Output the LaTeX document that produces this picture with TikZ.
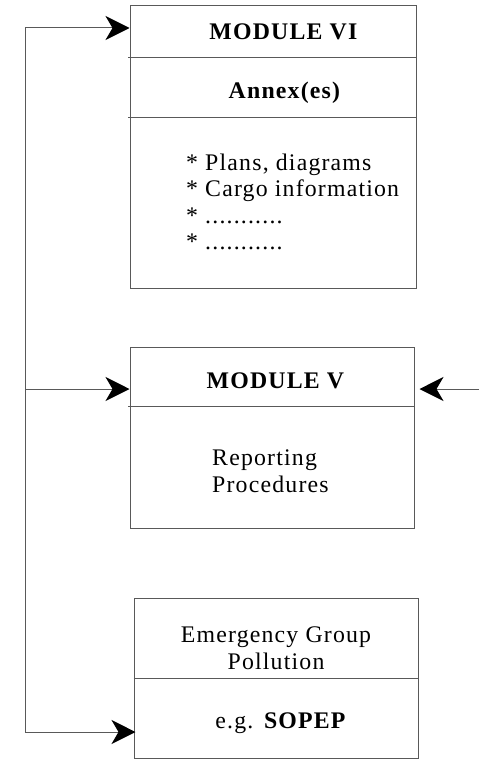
\documentclass[tikz,border=0pt]{standalone}
\usepackage{fontspec}
\setmainfont[LetterSpace=5]{Liberation Serif}
\usetikzlibrary{arrows.meta}
\begin{document}
\begin{tikzpicture}[x=1pt,y=-1pt,
  box/.style={draw=black!65,line width=1pt,rectangle,inner sep=0pt},
  rule/.style={draw=black!65,line width=1pt},
  conn/.style={draw=black!65,line width=1pt},
  arr/.style={conn,-{Stealth[length=24pt,width=24pt,inset=7pt,black]}},
  txt/.style={inner sep=0pt,font=\fontsize{23.8}{26.4}\selectfont},
]
\useasboundingbox (0,0) rectangle (479,776);
% boxes
\node[box,minimum width=286pt,minimum height=282pt] (m6) at (273,147) {};
\node[box,minimum width=284pt,minimum height=181pt] (m5) at (272,437.5) {};
\node[box,minimum width=284pt,minimum height=160pt] (m4) at (276,678) {};
% dividers
\draw[rule] (128,58) -- (m6.east |- 0,58);
\draw[rule] (128,117) -- (m6.east |- 0,117);
\draw[rule] (128,406) -- (m5.east |- 0,406);
\draw[rule] (m4.west |- 0,678) -- (m4.east |- 0,678);
% texts
\node[txt,anchor=base] (t6a) at (284,40) {\textbf{MODULE VI}};
\node[txt,anchor=base] (t6b) at (285,99) {\textbf{Annex(es)}};
\node[txt,anchor=base west,align=left] (t6c) at (186,249.5)
  {* Plans, diagrams\\* Cargo information\\* ...........\\* ...........};
\node[txt,anchor=base] (t5a) at (276,388) {\textbf{MODULE V}};
\node[txt,anchor=base west,align=left] (t5b) at (212,492) {Reporting\\Procedures};
\node[txt,anchor=base,align=center] (t4a) at (276,669) {Emergency Group\\Pollution};
\node[txt,anchor=base] (t4b) at (281,728) {e.g. \textbf{SOPEP}};
% connectors
\coordinate (s6) at (25,28);
\coordinate (s5) at (25,389);
\coordinate (s4) at (25,732);
\coordinate (r5) at (479,389);
\draw[conn] (s6) -- (s4);
\draw[arr] (s6) -- (s6 -| m6.west);
\draw[arr] (s5) -- (s5 -| m5.west);
\draw[arr] (s4) -- ([xshift=2pt]s4 -| m4.west);
\draw[arr] (r5) -- ([xshift=5pt]r5 -| m5.east);
\end{tikzpicture}
\end{document}
